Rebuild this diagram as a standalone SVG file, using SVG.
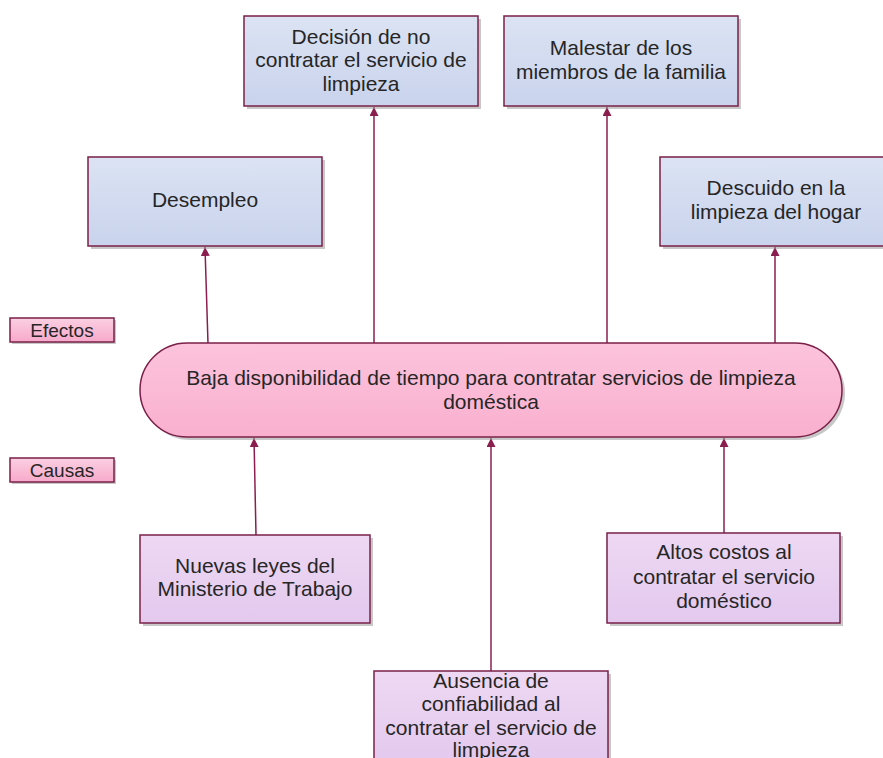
<svg xmlns="http://www.w3.org/2000/svg" width="883" height="758" viewBox="0 0 883 758">
<style>
  .box{stroke:#7a2048;stroke-width:1.5}
  .eff{fill:url(#gEff)}
  .cau{fill:url(#gCau)}
  .lbl{fill:url(#gLbl)}
  .sh{fill:#9a9a9a;opacity:0.55}
  text{font-family:"Liberation Sans",Arial,sans-serif;font-size:21px;fill:#262626;text-anchor:middle}
  .conn line{stroke:#8a1f4f;stroke-width:1.5;marker-end:url(#arr)}
</style>
<defs>
  <linearGradient id="gEff" x1="0" y1="0" x2="0" y2="1"><stop offset="0" stop-color="#dbe3f3"/><stop offset="1" stop-color="#c9d3ec"/></linearGradient>
  <linearGradient id="gCau" x1="0" y1="0" x2="0" y2="1"><stop offset="0" stop-color="#eed8f3"/><stop offset="1" stop-color="#e3c9ee"/></linearGradient>
  <linearGradient id="gLbl" x1="0" y1="0" x2="0" y2="1"><stop offset="0" stop-color="#fbd0e2"/><stop offset="1" stop-color="#f7a9cb"/></linearGradient>
  <linearGradient id="gMain" x1="0" y1="0" x2="0" y2="1"><stop offset="0" stop-color="#fcc3dc"/><stop offset="1" stop-color="#f9b0cf"/></linearGradient>
  <marker id="arr" viewBox="0 0 10 10" refX="10" refY="5" markerWidth="9" markerHeight="9" markerUnits="userSpaceOnUse" orient="auto"><path d="M0,0 L10,5 L0,10 z" fill="#8a1f4f"/></marker>
</defs>

<g id="conectores" class="conn">
  <line x1="208" y1="343" x2="205" y2="247"/>
  <line x1="374" y1="343" x2="374" y2="107"/>
  <line x1="607" y1="343" x2="607" y2="107"/>
  <line x1="775" y1="343" x2="775" y2="247"/>
  <line x1="256" y1="535" x2="254" y2="438"/>
  <line x1="491" y1="671" x2="491" y2="438"/>
  <line x1="724" y1="533" x2="724" y2="438"/>
</g>

<g id="decision">
  <rect class="sh" x="247" y="19" width="234" height="90"/>
  <rect class="box eff" x="244" y="16" width="234" height="90"/>
  <text x="361" y="44">Decisión de no</text>
  <text x="361" y="67">contratar el servicio de</text>
  <text x="361" y="91">limpieza</text>
</g>
<g id="malestar">
  <rect class="sh" x="507" y="19" width="234" height="90"/>
  <rect class="box eff" x="504" y="16" width="234" height="90"/>
  <text x="621" y="55">Malestar de los</text>
  <text x="621" y="79">miembros de la familia</text>
</g>
<g id="desempleo">
  <rect class="sh" x="91" y="160" width="234" height="89"/>
  <rect class="box eff" x="88" y="157" width="234" height="89"/>
  <text x="205" y="207">Desempleo</text>
</g>
<g id="descuido">
  <rect class="sh" x="663" y="160" width="234" height="89"/>
  <rect class="box eff" x="660" y="157" width="234" height="89"/>
  <text x="776" y="195">Descuido en la</text>
  <text x="776" y="219">limpieza del hogar</text>
</g>

<g id="efectos">
  <rect class="sh" x="12" y="320" width="104" height="24"/>
  <rect class="box lbl" x="10" y="318" width="104" height="24"/>
  <text x="62" y="337" style="font-size:19px">Efectos</text>
</g>
<g id="causas">
  <rect class="sh" x="12" y="460" width="104" height="24"/>
  <rect class="box lbl" x="10" y="458" width="104" height="24"/>
  <text x="62" y="477" style="font-size:19px">Causas</text>
</g>

<g id="problema">
  <rect class="sh" x="143" y="346" width="702" height="94" rx="47"/>
  <rect class="box" fill="url(#gMain)" x="140" y="343" width="702" height="94" rx="47"/>
  <text x="491" y="385">Baja disponibilidad de tiempo para contratar servicios de limpieza</text>
  <text x="491" y="409">doméstica</text>
</g>

<g id="nuevas">
  <rect class="sh" x="143" y="538" width="230" height="88"/>
  <rect class="box cau" x="140" y="535" width="230" height="88"/>
  <text x="255" y="573">Nuevas leyes del</text>
  <text x="255" y="596">Ministerio de Trabajo</text>
</g>
<g id="altos">
  <rect class="sh" x="610" y="536" width="233" height="90"/>
  <rect class="box cau" x="607" y="533" width="233" height="90"/>
  <text x="724" y="559">Altos costos al</text>
  <text x="724" y="584">contratar el servicio</text>
  <text x="724" y="608">doméstico</text>
</g>
<g id="ausencia">
  <rect class="sh" x="377" y="674" width="234" height="95"/>
  <rect class="box cau" x="374" y="671" width="234" height="95"/>
  <text x="491" y="688">Ausencia de</text>
  <text x="491" y="711">confiabilidad al</text>
  <text x="491" y="735">contratar el servicio de</text>
  <text x="491" y="757">limpieza</text>
</g>
</svg>
